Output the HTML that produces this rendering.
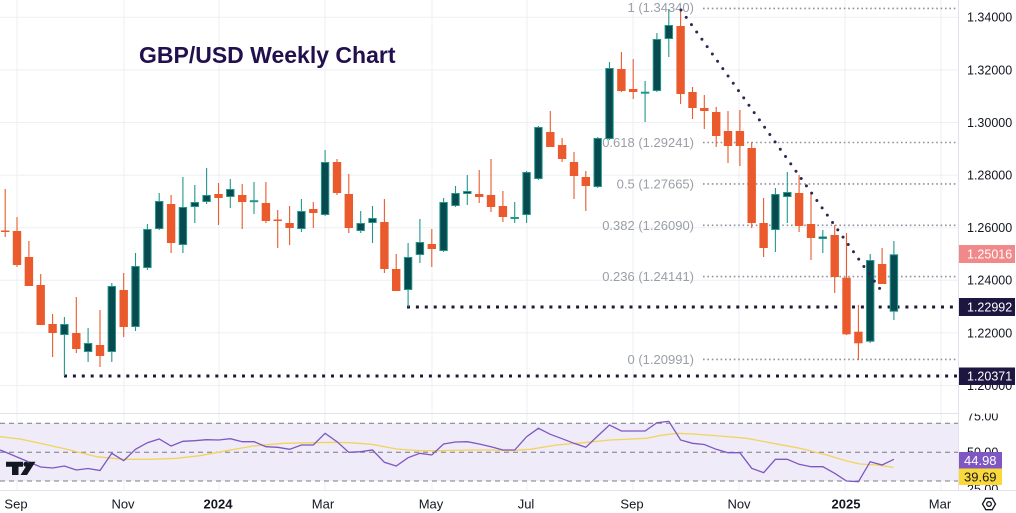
<!DOCTYPE html>
<html><head><meta charset="utf-8">
<style>
html,body{margin:0;padding:0;background:#fff;}
svg{display:block;font-family:"Liberation Sans",Arial,sans-serif;}
.ax{font-size:12.5px;fill:#131722;}
.tx{font-size:13px;fill:#131722;}
.fib{font-size:13px;fill:#9a9ea7;}
</style></head><body>
<svg width="1016" height="513" viewBox="0 0 1016 513" xmlns="http://www.w3.org/2000/svg">
<defs>
<clipPath id="plot"><rect x="0" y="0" width="958" height="413"/></clipPath>
<clipPath id="rsiax"><rect x="959" y="413.5" width="57" height="76.5"/></clipPath>
</defs>
<rect width="1016" height="513" fill="#fff"/>
<rect x="0" y="423.3" width="958" height="57.7" fill="#efebf8"/>
<g stroke="#eeeff3" stroke-width="1">
<path d="M0 17.3H958M0 69.9H958M0 122.5H958M0 175.1H958M0 227.7H958M0 280.3H958M0 332.9H958M0 385.5H958"/>
<path d="M17 0V490M124 0V490M219 0V490M325 0V490M432 0V490M527 0V490M633 0V490M739 0V490M845 0V490M941 0V490"/>
</g>
<path d="M0 413.5H958M0 490.5H1016M958.5 0V490" stroke="#e0e3eb" stroke-width="1"/>
<text x="139" y="63" font-size="23" font-weight="bold" fill="#21104d">GBP/USD Weekly Chart</text>
<g clip-path="url(#plot)">
<g stroke="#8f929b" stroke-width="1.6" stroke-dasharray="1.6 2.8">
<path d="M703 8.4H958M703 142.5H958M703 183.9H958M703 225.3H958M703 276.6H958M703 359.4H958"/>
</g>
<text class="fib" text-anchor="end" x="694" y="12">1 (1.34340)</text>
<text class="fib" text-anchor="end" x="694" y="147">0.618 (1.29241)</text>
<text class="fib" text-anchor="end" x="694" y="188.5">0.5 (1.27665)</text>
<text class="fib" text-anchor="end" x="694" y="229.8">0.382 (1.26090)</text>
<text class="fib" text-anchor="end" x="694" y="281">0.236 (1.24141)</text>
<text class="fib" text-anchor="end" x="694" y="363.8">0 (1.20991)</text>
<path d="M64 376H958M407 307H958" stroke="#1d1a38" stroke-width="3" stroke-dasharray="3 5.9"/>
<path stroke="#ea5a2c" stroke-width="1.1" fill="none" d="M5.2 189V237M17 217V267M28.9 241V286M40.7 274V325M52.6 314V357M76.3 297V353M100 310V367M123.7 273V337M171.1 195V253M218.5 183V225M242.2 184V229M265.9 182V223M277.7 210V248M289.6 206V245M313.3 202V228M337 159V195M348.8 174V233M384.4 199V273M396.2 254V291M431.8 229V267M479.2 170V203M491 159V212M502.9 191V222M550.3 111V147M562.1 138V162M574 152V199M585.8 171V211M621.4 52V92M633.2 59V99M680.6 10V104M692.5 87V119M704.3 95V129M716.2 107V147M728 111V163M739.9 110V166M751.7 142V228M763.6 198V257M799.1 175V232M811 192V260M834.7 225V293M846.5 233V335M858.4 305V360M882.1 248V284"/>
<path stroke="#22988b" stroke-width="1.1" fill="none" d="M64.4 317V376M88.1 328V362M111.8 283V362M135.5 253V331M147.4 224V270M159.2 193V230M182.9 177V253M194.8 185V223M206.6 168V204M230.3 179V208M254 182V214M301.4 199V232M325.1 150V216M360.7 211V233M372.5 206V243M408.1 243V307M419.9 219V263M443.6 198V252M455.5 186V207M467.3 175V205M514.7 202V223M526.6 171V223M538.4 126V180M597.7 137V188M609.5 62V140M645.1 81V122M656.9 33V92M668.8 9V57M775.4 188V252M787.3 172V223M822.8 230V253M870.2 254V343M893.9 241V320"/>
<g fill="#ea5a2c">
<rect x="1" y="230.5" width="8.4" height="1.5"/>
<rect x="12.8" y="231" width="8.4" height="34"/>
<rect x="24.7" y="257" width="8.4" height="29"/>
<rect x="36.5" y="285" width="8.4" height="40"/>
<rect x="48.4" y="324" width="8.4" height="9"/>
<rect x="72.1" y="333" width="8.4" height="16"/>
<rect x="95.8" y="345" width="8.4" height="11"/>
<rect x="119.5" y="290" width="8.4" height="37"/>
<rect x="166.9" y="204" width="8.4" height="39"/>
<rect x="214.3" y="194" width="8.4" height="4"/>
<rect x="238" y="195" width="8.4" height="7"/>
<rect x="261.7" y="203" width="8.4" height="18"/>
<rect x="273.5" y="219.5" width="8.4" height="1.5"/>
<rect x="285.4" y="223" width="8.4" height="5"/>
<rect x="309.1" y="209" width="8.4" height="4"/>
<rect x="332.8" y="162" width="8.4" height="31"/>
<rect x="344.6" y="194" width="8.4" height="34"/>
<rect x="380.2" y="222" width="8.4" height="47"/>
<rect x="392" y="269" width="8.4" height="22"/>
<rect x="427.6" y="244" width="8.4" height="5"/>
<rect x="475" y="194" width="8.4" height="3"/>
<rect x="486.8" y="195" width="8.4" height="12"/>
<rect x="498.7" y="206" width="8.4" height="11"/>
<rect x="546.1" y="132" width="8.4" height="15"/>
<rect x="557.9" y="145" width="8.4" height="14"/>
<rect x="569.8" y="162" width="8.4" height="14"/>
<rect x="581.6" y="177" width="8.4" height="9"/>
<rect x="617.2" y="69" width="8.4" height="22"/>
<rect x="629" y="89" width="8.4" height="3"/>
<rect x="676.4" y="26" width="8.4" height="68"/>
<rect x="688.3" y="92" width="8.4" height="16"/>
<rect x="700.1" y="108" width="8.4" height="3"/>
<rect x="712" y="112" width="8.4" height="24"/>
<rect x="723.8" y="131" width="8.4" height="15"/>
<rect x="735.7" y="131" width="8.4" height="15"/>
<rect x="747.5" y="148" width="8.4" height="75"/>
<rect x="759.4" y="223" width="8.4" height="25"/>
<rect x="794.9" y="193" width="8.4" height="33"/>
<rect x="806.8" y="224" width="8.4" height="14"/>
<rect x="830.5" y="235" width="8.4" height="42"/>
<rect x="842.3" y="277.7" width="8.4" height="56.6"/>
<rect x="854.2" y="331.7" width="8.4" height="11.6"/>
<rect x="877.9" y="264" width="8.4" height="20"/>
</g>
<g fill="#074a50" stroke="#22988b" stroke-width="1">
<rect x="60.7" y="324.5" width="7.4" height="10"/>
<rect x="84.4" y="343.5" width="7.4" height="8"/>
<rect x="108.1" y="286.5" width="7.4" height="65"/>
<rect x="131.8" y="266.5" width="7.4" height="60"/>
<rect x="143.7" y="229.5" width="7.4" height="38"/>
<rect x="155.5" y="201.5" width="7.4" height="27"/>
<rect x="179.2" y="207.5" width="7.4" height="37"/>
<rect x="191.1" y="202.5" width="7.4" height="4"/>
<rect x="202.9" y="195.5" width="7.4" height="6"/>
<rect x="226.6" y="189.5" width="7.4" height="7"/>
<rect x="250.3" y="200.7" width="7.4" height="1"/>
<rect x="297.7" y="211.5" width="7.4" height="17"/>
<rect x="321.4" y="162.5" width="7.4" height="52"/>
<rect x="357" y="223.5" width="7.4" height="7"/>
<rect x="368.8" y="218.5" width="7.4" height="4"/>
<rect x="404.4" y="257.5" width="7.4" height="32"/>
<rect x="416.2" y="242.5" width="7.4" height="12"/>
<rect x="439.9" y="202.5" width="7.4" height="48"/>
<rect x="451.8" y="193.5" width="7.4" height="12"/>
<rect x="463.6" y="191.5" width="7.4" height="2"/>
<rect x="511" y="217.5" width="7.4" height="1"/>
<rect x="522.9" y="172.5" width="7.4" height="42"/>
<rect x="534.7" y="127.5" width="7.4" height="51"/>
<rect x="594" y="138.5" width="7.4" height="48"/>
<rect x="605.8" y="68.5" width="7.4" height="70"/>
<rect x="641.4" y="92.2" width="7.4" height="1"/>
<rect x="653.2" y="39.5" width="7.4" height="51"/>
<rect x="665.1" y="25.5" width="7.4" height="13"/>
<rect x="771.7" y="194.5" width="7.4" height="35"/>
<rect x="783.6" y="192.5" width="7.4" height="4"/>
<rect x="819.1" y="237" width="7.4" height="1.5"/>
<rect x="866.5" y="260.5" width="7.4" height="80.7"/>
<rect x="890.2" y="254.8" width="7.4" height="56.4"/>
</g>
<path d="M681 10L880 289" stroke="#2d2850" stroke-width="3" stroke-linecap="round" stroke-dasharray="0 9" fill="none"/>
</g>
<path d="M0 423.3H958M0 452.3H958M0 481H958" stroke="#787b86" stroke-width="1" stroke-dasharray="5 4"/>
<polyline fill="none" stroke="#f2d45c" stroke-width="1.3" points="0,436.7 20,439 40,443.3 66.7,449.3 96.7,456.7 123.3,459.3 150,459.3 176.7,458.3 200,455.7 226.7,450.7 253.3,446 283.3,443.3 313.3,442.7 333,442.3 350,442.7 371.7,444.3 396.7,449 420,450.7 440,450.7 470,450 490,450 510,450.7 530,449.3 556.7,445 583.3,442.7 610,440 646.7,438.3 660,435.5 676.7,433.3 693.3,434 720,436 746.7,438.3 773.3,443.3 800,448.3 826.7,455 846.7,461 860,464 876.7,465 893.3,467.3"/>
<polyline fill="none" stroke="#7e57c2" stroke-width="1.3" points="0,450 5.2,452 17,457 28.9,462 40.7,467 52.6,468 64.4,466 76.3,470 88.1,468.5 100,470.5 111.8,453.3 123.7,460.7 135.5,449.3 147.4,442.7 159.2,439 171.1,446 182.9,441.3 194.8,440.7 206.6,439.7 218.5,440 230.3,438.7 242.2,441.7 254,441.7 265.9,446.7 277.7,447.3 289.6,449.3 301.4,445 313.3,445 325.1,433.3 337,441.7 348.8,452.3 360.7,451.7 372.5,450 384.4,462.3 396.2,466 408.1,457.7 419.9,453.3 431.8,455 443.6,444 455.5,442 467.3,441.7 479.2,444 491,446.7 502.9,450 514.7,450 526.6,436.7 538.4,428.3 550.3,434.3 562.1,438.7 574,443.3 585.8,447.3 597.7,436 609.5,425 621.4,431 633.2,431 645.1,431 656.9,422.7 668.8,421.3 680.6,440 692.5,443.3 704.3,444.5 716.2,449.3 728,452.7 739.9,452.7 751.7,468.3 763.6,472.7 775.4,459.3 787.3,459.3 799.1,464.3 811,466.7 822.8,466.7 834.7,473.3 846.5,481 858.4,481.7 870.2,461.7 882.1,465 893.9,459.3"/>
<g fill="#131722">
<path d="M6 461.7H23V466.7H18.5V475H12V466.7H6Z"/>
<circle cx="26" cy="464.2" r="2.6"/>
<path d="M29 461.7H35.5L27 475H20.5Z"/>
</g>
<g class="ax">
<text x="967" y="21.7">1.34000</text>
<text x="967" y="74.3">1.32000</text>
<text x="967" y="126.9">1.30000</text>
<text x="967" y="179.5">1.28000</text>
<text x="967" y="232.1">1.26000</text>
<text x="967" y="284.7">1.24000</text>
<text x="967" y="337.3">1.22000</text>
<text x="967" y="389.9">1.20000</text>
</g>
<rect x="959" y="245" width="56" height="18" fill="#f1898a"/>
<text class="ax" x="967" y="258.5" style="fill:#fff">1.25016</text>
<rect x="959" y="298" width="56" height="18" fill="#1c1640"/>
<text class="ax" x="967" y="311.5" style="fill:#fff">1.22992</text>
<rect x="959" y="367.5" width="56" height="17.5" fill="#1c1640"/>
<text class="ax" x="967" y="380.7" style="fill:#fff">1.20371</text>
<g clip-path="url(#rsiax)" class="ax">
<text x="967" y="420.4">75.00</text>
<text x="967" y="456.7">50.00</text>
<text x="967" y="493.4">25.00</text>
</g>
<rect x="959" y="452" width="43" height="16.5" fill="#7e57c2"/>
<text class="ax" x="964" y="464.8" style="fill:#fff;font-size:13px">44.98</text>
<rect x="959" y="468.5" width="43" height="16.5" fill="#fbd83a"/>
<text class="ax" x="964" y="481.3" style="font-size:13px">39.69</text>
<g class="tx" text-anchor="middle">
<text x="16" y="508.5">Sep</text>
<text x="123" y="508.5">Nov</text>
<text x="218" y="508.5" font-weight="bold">2024</text>
<text x="323" y="508.5">Mar</text>
<text x="431" y="508.5">May</text>
<text x="526" y="508.5">Jul</text>
<text x="632" y="508.5">Sep</text>
<text x="739" y="508.5">Nov</text>
<text x="846" y="508.5" font-weight="bold">2025</text>
<text x="940" y="508.5">Mar</text>
</g>
<g fill="none" stroke="#131722" stroke-width="1.3">
<path d="M982.5 504L985.8 498.3H992.2L995.5 504L992.2 509.7H985.8Z"/>
<circle cx="989" cy="504" r="2.3"/>
</g>
</svg>
</body></html>
